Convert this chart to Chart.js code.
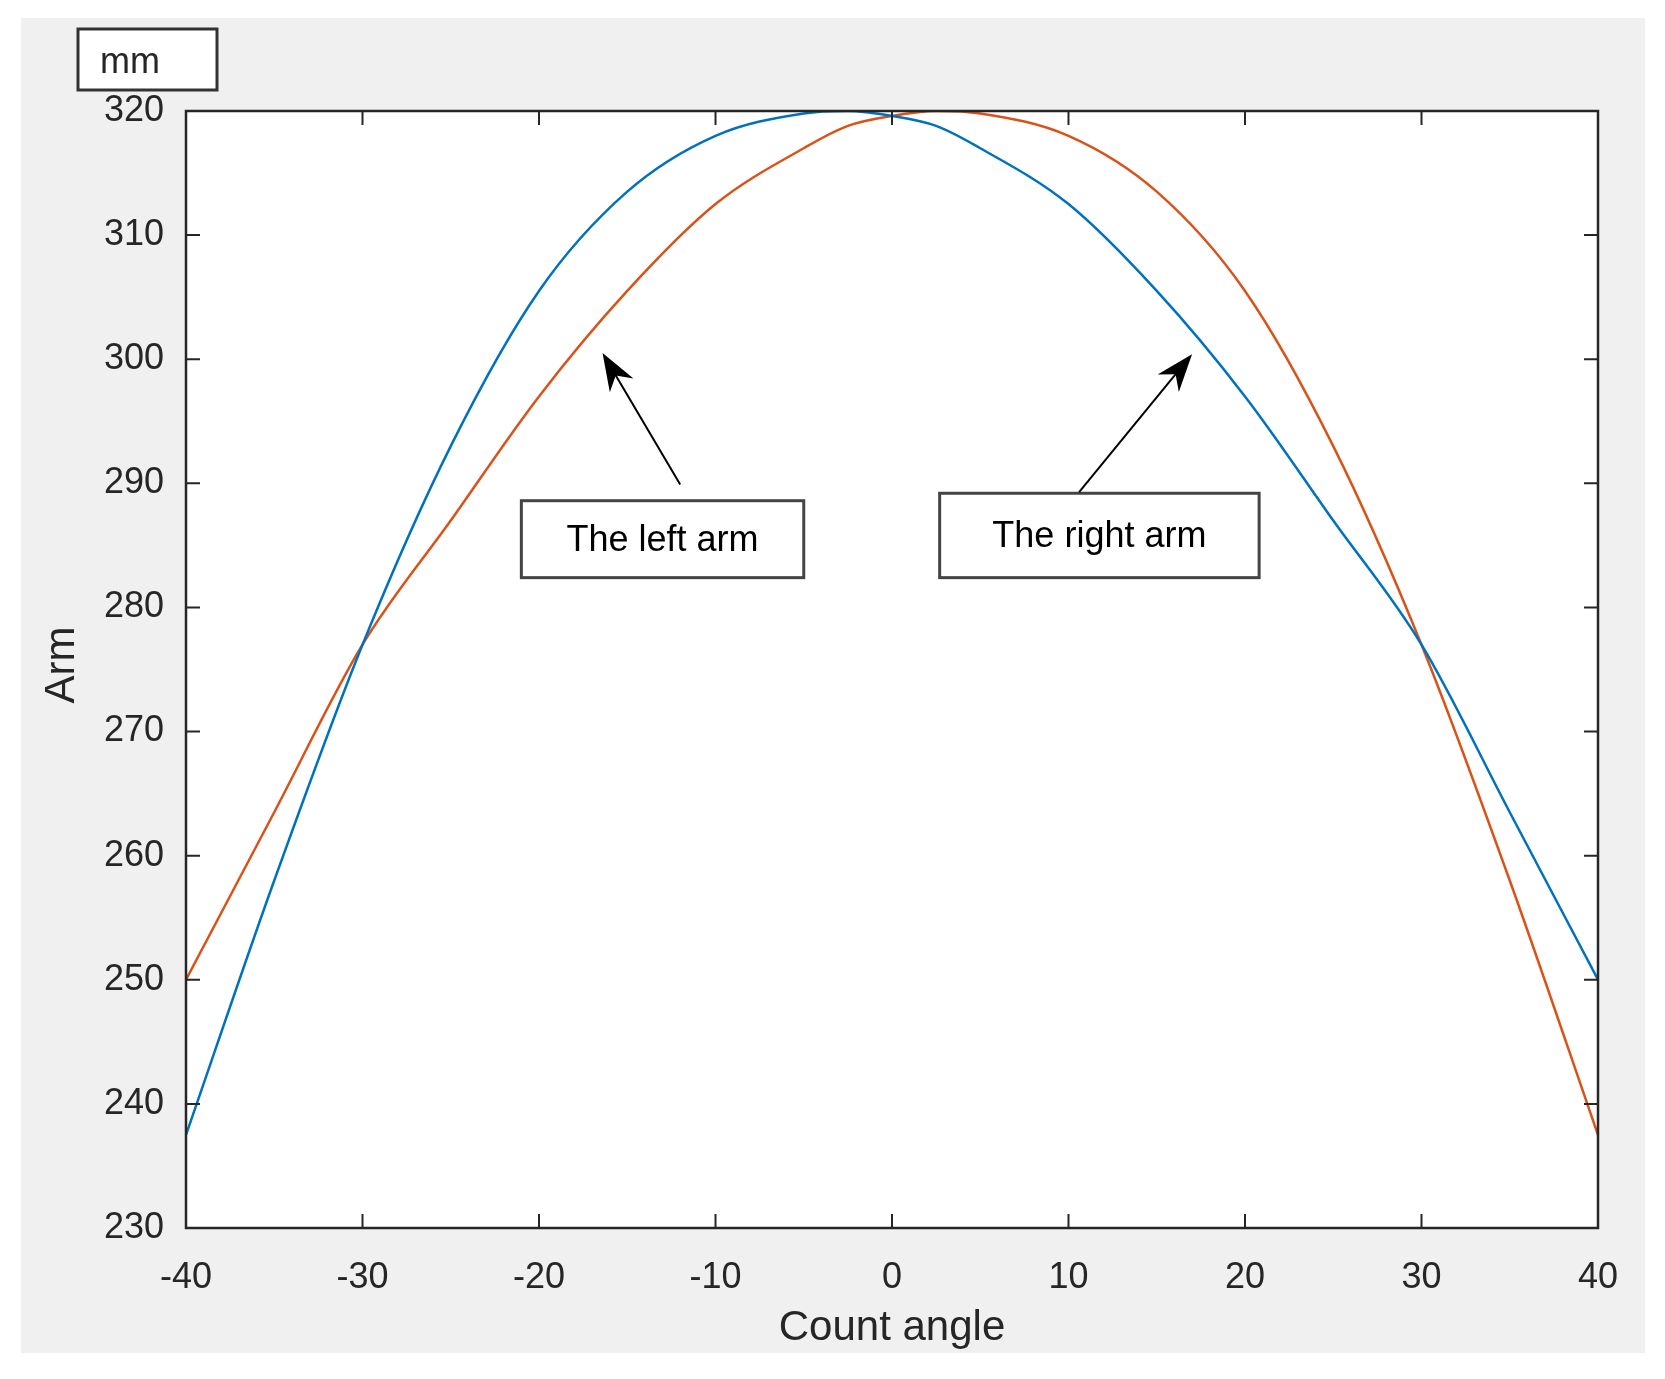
<!DOCTYPE html>
<html>
<head>
<meta charset="utf-8">
<script src="https://cdn.jsdelivr.net/npm/chart.js@4/dist/chart.umd.min.js"></script>
<style>
  body { margin: 0; background: #fff; }
  #wrap { width: 1665px; height: 1379px; }
</style>
</head>
<body>
<div id="wrap"><canvas id="c" width="1665" height="1379"></canvas></div>
<script>
// Count angle values
const angles = [-40, -35, -30, -25, -20, -15, -10, -5, -2.5, 0, 2.5, 5, 10, 15, 20, 25, 30, 35, 40];
// The left arm (blue)
const leftArm = [237.5, 258, 277, 293, 305.5, 313.5, 318, 319.8, 320, 319.6, 318.8, 317, 312.5, 305.5, 297, 287, 277, 263.5, 250];
// The right arm (orange) - mirror of the left
const rightArm = angles.map((a) => leftArm[angles.indexOf(-a)]);

const xTicks = [-40, -30, -20, -10, 0, 10, 20, 30, 40];
const yTicks = [230, 240, 250, 260, 270, 280, 290, 300, 310, 320];

// annotation boxes and arrows, in data units
const notes = [
  { text: 'The left arm', box: [-21, 288.6, -5, 282.4], from: [-12, 289.9], to: [-16.4, 300.5] },
  { text: 'The right arm', box: [2.7, 289.2, 20.8, 282.4], from: [10.6, 289.3], to: [17, 300.4] },
];

const FONT = '"Liberation Sans", Arial, sans-serif';

const matlabLook = {
  id: 'matlabLook',
  beforeDraw(chart) {
    const ctx = chart.ctx;
    ctx.save();
    ctx.fillStyle = '#f0f0f0';
    ctx.fillRect(21, 18, 1624, 1335);
    const a = chart.chartArea;
    ctx.fillStyle = '#fff';
    ctx.fillRect(a.left, a.top, a.right - a.left, a.bottom - a.top);
    ctx.restore();
  },
  afterDraw(chart) {
    const ctx = chart.ctx;
    const a = chart.chartArea;
    const xs = chart.scales.x, ys = chart.scales.y;
    ctx.save();
    ctx.strokeStyle = '#262626';
    ctx.lineWidth = 2;
    // inward ticks
    ctx.beginPath();
    xTicks.forEach((v) => {
      const px = xs.getPixelForValue(v);
      ctx.moveTo(px, a.bottom); ctx.lineTo(px, a.bottom - 14);
      ctx.moveTo(px, a.top); ctx.lineTo(px, a.top + 14);
    });
    yTicks.forEach((v) => {
      const py = ys.getPixelForValue(v);
      ctx.moveTo(a.left, py); ctx.lineTo(a.left + 14, py);
      ctx.moveTo(a.right, py); ctx.lineTo(a.right - 14, py);
    });
    ctx.stroke();
    ctx.lineWidth = 2.5;
    ctx.strokeRect(a.left, a.top, a.right - a.left, a.bottom - a.top);

    // titles
    ctx.fillStyle = '#262626';
    ctx.font = '42px ' + FONT;
    ctx.textAlign = 'center';
    ctx.textBaseline = 'middle';
    ctx.fillText('Count angle', (a.left + a.right) / 2, 1328);
    ctx.save();
    ctx.translate(62, 665);
    ctx.rotate(-Math.PI / 2);
    ctx.fillText('Arm', 0, 0);
    ctx.restore();

    // "mm" unit box
    ctx.fillStyle = '#fff';
    ctx.fillRect(78, 29, 139, 61);
    ctx.strokeStyle = '#333';
    ctx.lineWidth = 3;
    ctx.strokeRect(78, 29, 139, 61);
    ctx.fillStyle = '#262626';
    ctx.font = '36px ' + FONT;
    ctx.textAlign = 'left';
    ctx.fillText('mm', 100, 63);

    // annotations
    notes.forEach((n) => {
      const x0 = xs.getPixelForValue(n.box[0]), y0 = ys.getPixelForValue(n.box[1]);
      const x1 = xs.getPixelForValue(n.box[2]), y1 = ys.getPixelForValue(n.box[3]);
      ctx.fillStyle = '#fff';
      ctx.fillRect(x0, y0, x1 - x0, y1 - y0);
      ctx.strokeStyle = '#444';
      ctx.lineWidth = 3;
      ctx.strokeRect(x0, y0, x1 - x0, y1 - y0);
      ctx.fillStyle = '#000';
      ctx.font = '36px ' + FONT;
      ctx.textAlign = 'center';
      ctx.fillText(n.text, (x0 + x1) / 2, (y0 + y1) / 2 + 2);
      const fx = xs.getPixelForValue(n.from[0]), fy = ys.getPixelForValue(n.from[1]);
      const tx = xs.getPixelForValue(n.to[0]), ty = ys.getPixelForValue(n.to[1]);
      const ang = Math.atan2(ty - fy, tx - fx);
      ctx.strokeStyle = '#000';
      ctx.lineWidth = 2;
      ctx.beginPath(); ctx.moveTo(fx, fy);
      ctx.lineTo(tx - 20 * Math.cos(ang), ty - 20 * Math.sin(ang)); ctx.stroke();
      ctx.fillStyle = '#000';
      ctx.beginPath();
      ctx.moveTo(tx, ty);
      ctx.lineTo(tx - 40 * Math.cos(ang - 0.35), ty - 40 * Math.sin(ang - 0.35));
      ctx.lineTo(tx - 26 * Math.cos(ang), ty - 26 * Math.sin(ang));
      ctx.lineTo(tx - 40 * Math.cos(ang + 0.35), ty - 40 * Math.sin(ang + 0.35));
      ctx.closePath(); ctx.fill();
    });
    ctx.restore();
  },
};

new Chart(document.getElementById('c'), {
  type: 'line',
  data: {
    datasets: [
      { label: 'The left arm', data: angles.map((a, i) => ({ x: a, y: leftArm[i] })), borderColor: '#0072BD' },
      { label: 'The right arm', data: angles.map((a, i) => ({ x: a, y: rightArm[i] })), borderColor: '#D95319' },
    ],
  },
  options: {
    responsive: false,
    animation: false,
    layout: { padding: { left: 0, top: 111, right: 67, bottom: 0 } },
    elements: { point: { radius: 0 }, line: { borderWidth: 2.5, tension: 0.4, cubicInterpolationMode: 'monotone' } },
    plugins: { legend: { display: false }, tooltip: { enabled: false } },
    scales: {
      x: {
        type: 'linear', min: -40, max: 40,
        afterFit: (s) => { s.height = 151; },
        afterBuildTicks: (s) => { s.ticks = xTicks.map((v) => ({ value: v })); },
        grid: { display: false },
        border: { display: false },
        ticks: { color: '#262626', padding: 20, maxRotation: 0, font: { size: 36, family: FONT } },
      },
      y: {
        min: 230, max: 320,
        afterFit: (s) => { s.width = 186; },
        afterBuildTicks: (s) => { s.ticks = yTicks.map((v) => ({ value: v })); },
        grid: { display: false },
        border: { display: false },
        ticks: { color: '#262626', padding: 14, font: { size: 36, family: FONT } },
      },
    },
  },
  plugins: [matlabLook],
});
</script>
</body>
</html>
